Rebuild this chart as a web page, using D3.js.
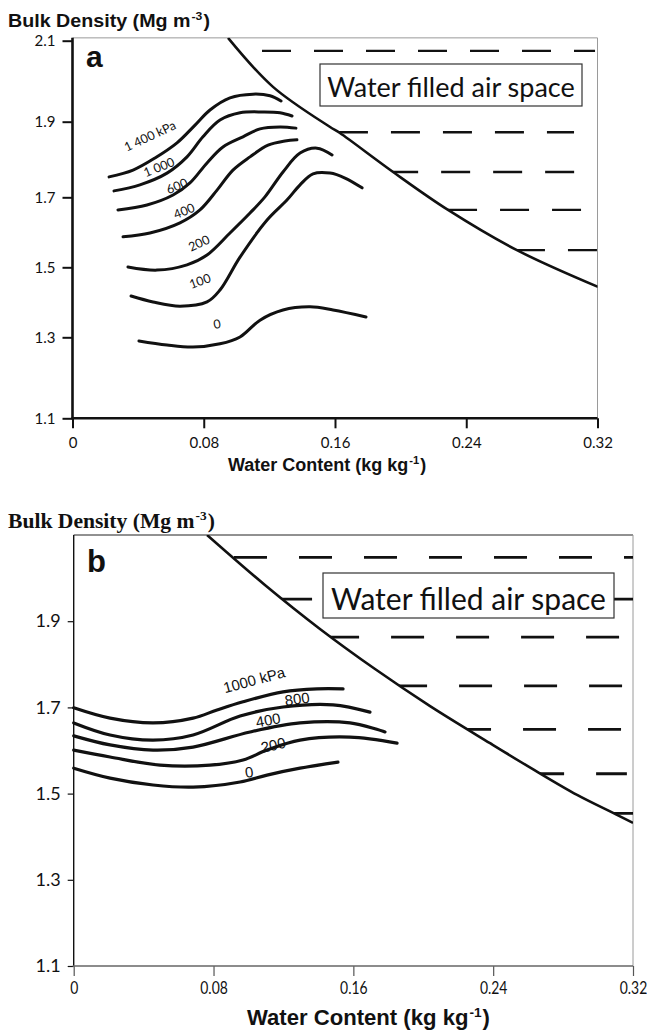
<!DOCTYPE html>
<html>
<head>
<meta charset="utf-8">
<script src="https://cdn.jsdelivr.net/npm/d3@7"></script>
<style>
  body { margin: 0; background: #fff; }
  text { fill: #111; }
</style>
</head>
<body>
<svg id="chart" width="647" height="1034"></svg>
<script>
// ---------- shared axis values ----------
var xTicks = [0, 0.08, 0.16, 0.24, 0.32];
var yTicksA = [1.1, 1.3, 1.5, 1.7, 1.9, 2.1];
var yTicksB = [1.1, 1.3, 1.5, 1.7, 1.9];

// ---------- panel a: contours [water content, bulk density] ----------
var a1400 = [[0.0223,1.754],[0.0369,1.772],[0.0503,1.804],[0.0637,1.844],[0.0747,1.891],[0.0838,1.929],[0.0960,1.959],[0.1100,1.968],[0.1204,1.964],[0.1271,1.951]];
var a1000 = [[0.0253,1.717],[0.0411,1.733],[0.0576,1.764],[0.0698,1.807],[0.0795,1.860],[0.0899,1.904],[0.1021,1.922],[0.1161,1.924],[0.1265,1.922],[0.1338,1.914]];
var a600  = [[0.0277,1.664],[0.0454,1.678],[0.0613,1.706],[0.0716,1.738],[0.0820,1.791],[0.0917,1.833],[0.1039,1.860],[0.1143,1.881],[0.1265,1.886],[0.1362,1.883]];
var a400  = [[0.0308,1.587],[0.0472,1.598],[0.0655,1.627],[0.0777,1.664],[0.0881,1.719],[0.0978,1.772],[0.1082,1.807],[0.1192,1.838],[0.1295,1.849],[0.1368,1.852]];
var a200  = [[0.0338,1.501],[0.0515,1.492],[0.0698,1.507],[0.0820,1.535],[0.0960,1.598],[0.1082,1.655],[0.1173,1.701],[0.1283,1.767],[0.1387,1.817],[0.1490,1.830],[0.1582,1.812]];
var a100  = [[0.0357,1.418],[0.0491,1.401],[0.0655,1.389],[0.0820,1.401],[0.0899,1.435],[0.1021,1.529],[0.1186,1.635],[0.1307,1.692],[0.1387,1.733],[0.1466,1.762],[0.1570,1.764],[0.1661,1.751],[0.1765,1.725]];
var a0    = [[0.0405,1.291],[0.0576,1.281],[0.0734,1.276],[0.0899,1.284],[0.1021,1.301],[0.1143,1.349],[0.1283,1.378],[0.1448,1.387],[0.1588,1.378],[0.1789,1.358]];
var aLabels = ["1 400 kPa", "1 000", "600", "400", "200", "100", "0"];

// saturation line and water-filled rows, panel a
var aLimit = [[0.0948,2.107],[0.1222,1.986],[0.1570,1.886],[0.1630,1.870],[0.1954,1.767],[0.2289,1.664],[0.2709,1.549],[0.3203,1.444]];
var aDashY    = [2.075, 1.872, 1.767, 1.664, 1.549];
var aDashFrom = [0.1155, 0.1624, 0.1930, 0.2289, 0.2703];
var aDashTo   = [0.3185, 0.3057, 0.3069, 0.3112, 0.3200];

// ---------- panel b ----------
var b1000 = [[0,1.699],[0.0208,1.675],[0.0454,1.664],[0.0683,1.675],[0.0820,1.694],[0.0969,1.713],[0.1198,1.736],[0.1392,1.743],[0.1541,1.743]];
var b800  = [[0,1.664],[0.0208,1.636],[0.0454,1.624],[0.0683,1.636],[0.0952,1.680],[0.1198,1.701],[0.1484,1.706],[0.1695,1.689]];
var b400  = [[0,1.634],[0.0208,1.613],[0.0454,1.601],[0.0683,1.608],[0.1009,1.643],[0.1295,1.664],[0.1581,1.664],[0.1781,1.643]];
var b200  = [[0,1.601],[0.0208,1.585],[0.0494,1.566],[0.0780,1.566],[0.0969,1.578],[0.1106,1.601],[0.1295,1.624],[0.1581,1.631],[0.1850,1.617]];
var b0    = [[0,1.559],[0.0208,1.536],[0.0454,1.520],[0.0683,1.515],[0.0952,1.527],[0.1106,1.543],[0.1295,1.559],[0.1512,1.573]];
var bLabels = ["1000 kPa", "800", "400", "200", "0"];

var bLimit = [[0.0763,2.100],[0.1094,1.984],[0.1409,1.882],[0.1724,1.789],[0.2039,1.703],[0.2382,1.617],[0.2634,1.555],[0.2880,1.497],[0.3097,1.453],[0.3200,1.432]];
var bDashY    = [2.048, 1.951, 1.863, 1.750, 1.649, 1.546, 1.454];
var bDashFrom = [0.0917, 0.1175, 0.1444, 0.1833, 0.2199, 0.2617, 0.3080];
var bDashTo   = [0.3200, 0.3200, 0.3154, 0.3165, 0.3137, 0.3165, 0.3200];

var svg = d3.select("#chart");
var tickFont = "Lato, 'Open Sans', sans-serif";

function xFmt(d) { return d === 0 ? "0" : d3.format(".2f")(d); }

// a title with a superscript part, e.g. m-3
function supTitle(x, y, pre, sup, post, font, size, width) {
  var t = svg.append("text")
    .attr("x", x).attr("y", y)
    .style("font-family", font)
    .style("font-weight", "bold")
    .style("font-size", size + "px");
  t.append("tspan").text(pre);
  t.append("tspan").attr("dx", 1).attr("dy", -size * 0.38).style("font-size", (size * 0.62) + "px").text(sup);
  t.append("tspan").attr("dx", 1).attr("dy", size * 0.38).text(post);
  if (width) t.attr("textLength", width).attr("lengthAdjust", "spacingAndGlyphs");
  return t;
}

function drawPanel(p) {
  var g = svg.append("g");
  var x = p.x, y = p.y;
  var x0 = x(0), x1 = x(0.32), yb = y(1.1), yt = y(p.top);

  // frame
  g.append("line").attr("x1", x0).attr("x2", x1).attr("y1", yt).attr("y2", yt)
    .attr("stroke", p.topColor).attr("stroke-width", 1);
  g.append("line").attr("x1", x1).attr("x2", x1).attr("y1", yt).attr("y2", yb)
    .attr("stroke", "#9a9a9a").attr("stroke-width", 1);

  // clip for the water-filled region (right of the saturation line)
  var line = d3.line().x(function(d) { return x(d[0]); }).y(function(d) { return y(d[1]); })
    .curve(d3.curveCatmullRom.alpha(0.5));
  var lim = p.limit;
  var clipD = line(lim) + "L" + (x1 + 20) + "," + y(lim[lim.length - 1][1]) +
    "L" + (x1 + 20) + "," + (yt - 20) + "L" + x(lim[0][0]) + "," + (yt - 20) + "Z";
  svg.append("clipPath").attr("id", "clip" + p.id).append("path").attr("d", clipD);

  // frame clip for curves
  svg.append("clipPath").attr("id", "frame" + p.id).append("rect")
    .attr("x", x0).attr("y", yt).attr("width", x1 - x0).attr("height", yb - yt);

  // dashed water rows
  g.append("g").attr("clip-path", "url(#clip" + p.id + ")")
    .selectAll("line").data(p.dashY).enter().append("line")
    .attr("x1", function(d, i) { return x(p.dashFrom[i]); })
    .attr("x2", function(d, i) { return x(p.dashTo[i]); })
    .attr("y1", function(d) { return y(d); })
    .attr("y2", function(d) { return y(d); })
    .attr("stroke", "#111")
    .attr("stroke-width", p.dashWidth)
    .attr("stroke-dasharray", p.dash);

  // saturation line
  g.append("path").attr("d", line(lim)).attr("fill", "none")
    .attr("stroke", "#111").attr("stroke-width", p.limitWidth)
    .attr("clip-path", "url(#frame" + p.id + ")");

  // contours
  g.selectAll("path.contour").data(p.curves).enter().append("path")
    .attr("class", "contour")
    .attr("d", line)
    .attr("fill", "none")
    .attr("stroke", "#111")
    .attr("stroke-width", p.curveWidth)
    .attr("stroke-linecap", "round");

  // contour labels
  g.selectAll("text.lab").data(p.labels).enter().append("text")
    .attr("class", "lab")
    .attr("transform", function(d, i) {
      var q = p.labelPos[i];
      return "translate(" + x(q[0]) + "," + y(q[1]) + ") rotate(" + q[2] + ")";
    })
    .attr("text-anchor", "middle")
    .attr("dominant-baseline", "central")
    .style("font-family", p.labelFont)
    .style("font-size", p.labelSize + "px")
    .text(function(d) { return d; });

  // box
  var bx = g.append("g");
  bx.append("rect").attr("x", p.box[0]).attr("y", p.box[1])
    .attr("width", p.box[2]).attr("height", p.box[3])
    .attr("fill", "#fff").attr("stroke", "#333").attr("stroke-width", 1.2);
  bx.append("text").attr("x", p.box[0] + p.box[2] / 2).attr("y", p.box[1] + p.box[4])
    .attr("text-anchor", "middle")
    .style("font-family", tickFont).style("font-size", p.boxSize + "px")
    .text("Water filled air space");

  // axes
  var ay = d3.axisLeft(y).tickValues(p.yTicks).tickSize(p.yTick).tickPadding(7)
    .tickFormat(d3.format(".1f"));
  var ag = g.append("g").attr("transform", "translate(" + x0 + ",0)").call(ay);
  var ax = d3.axisBottom(x).tickValues(xTicks).tickSize(10).tickPadding(p.xPad).tickFormat(xFmt);
  var xg = g.append("g").attr("transform", "translate(0," + yb + ")").call(ax);
  [ag, xg].forEach(function(a) {
    a.select(".domain").remove();
    a.selectAll("text").style("font-family", tickFont).style("font-size", p.tickSize + "px")
      .attr("fill", "#111");
  });
  xg.selectAll("text").style("font-size", p.xTickSize + "px");
  // panel b labels are a touch narrower than they are tall
  if (p.squeeze !== 1) {
    xg.selectAll("text").attr("transform", "scale(" + p.squeeze + ",1)");
  }
  ag.selectAll(".tick line").attr("stroke", "#111").attr("stroke-width", p.tickWidth);
  xg.selectAll(".tick line").attr("stroke", p.xTickColor).attr("stroke-width", p.tickWidth);

  g.append("line").attr("x1", x0).attr("x2", x0).attr("y1", yb).attr("y2", yt)
    .attr("stroke", "#111").attr("stroke-width", p.leftWidth);
  g.append("line").attr("x1", x0 - 1).attr("x2", x1).attr("y1", yb).attr("y2", yb)
    .attr("stroke", p.bottomColor).attr("stroke-width", p.bottomWidth);

  // panel letter
  g.append("text").attr("x", p.letter[1]).attr("y", p.letter[2])
    .style("font-family", "'Liberation Sans', Arial, sans-serif")
    .style("font-weight", "bold").style("font-size", p.letter[3] + "px")
    .text(p.letter[0]);
}

// ---------- panel a ----------
var xa = d3.scaleLinear().domain([0, 0.32]).range([72.5, 597.5]);
var ya = d3.scaleLinear().domain(yTicksA).range([418.3, 337.3, 267.3, 197.3, 121.7, 40.7]);

drawPanel({
  id: "a", x: xa, y: ya, top: 2.107, topColor: "#9a9a9a",
  limit: aLimit, dashY: aDashY, dashFrom: aDashFrom, dashTo: aDashTo,
  dash: "29,23", dashWidth: 2.4, limitWidth: 2.6,
  curves: [a1400, a1000, a600, a400, a200, a100, a0], curveWidth: 3,
  labels: aLabels,
  labelPos: [[0.0472,1.862,-25],[0.0527,1.780,-22],[0.0637,1.730,-22],[0.0680,1.661,-22],[0.0771,1.569,-25],[0.0777,1.461,-20],[0.0881,1.338,-10]],
  labelFont: tickFont, labelSize: 12.5,
  box: [320, 64, 262, 42, 33], boxSize: 27,
  yTicks: yTicksA, yTick: 10, tickWidth: 2, xPad: 9, tickSize: 15, xTickSize: 15, xTickColor: "#111",
  squeeze: 1,
  leftWidth: 2.6, bottomColor: "#111", bottomWidth: 2.6,
  letter: ["a", 86, 67, 30]
});

// ---------- panel b ----------
var xb = d3.scaleLinear().domain([0, 0.32]).range([73.7, 633]);
var yb = d3.scaleLinear().domain([1.1, 2.1]).range([966, 535]);

drawPanel({
  id: "b", x: xb, y: yb, top: 2.1, topColor: "#222",
  limit: bLimit, dashY: bDashY, dashFrom: bDashFrom, dashTo: bDashTo,
  dash: "33,32", dashWidth: 2.8, limitWidth: 2.6,
  curves: [b1000, b800, b400, b200, b0], curveWidth: 3.2,
  labels: bLabels,
  labelPos: [[0.1032,1.764,-15],[0.1278,1.720,-8],[0.1112,1.671,-10],[0.1141,1.613,-13],[0.1003,1.550,-8]],
  labelFont: "'Liberation Sans', Arial, sans-serif", labelSize: 15,
  box: [323, 573, 291, 45, 37], boxSize: 30,
  yTicks: yTicksB, yTick: 6, tickWidth: 1.2, xPad: 6, tickSize: 18, xTickSize: 17, xTickColor: "#555",
  squeeze: 0.82,
  leftWidth: 1.4, bottomColor: "#666", bottomWidth: 1.6,
  letter: ["b", 87, 572, 31]
});

// ---------- axis titles ----------
supTitle(8, 27, "Bulk Density (Mg m", "-3", ")", "'Liberation Sans', Arial, sans-serif", 19, 202);
supTitle(228, 471, "Water Content (kg kg", "-1", ")", "'Liberation Sans', Arial, sans-serif", 18);
supTitle(8, 528, "Bulk Density (Mg m", "-3", ")", "'Liberation Serif', 'Times New Roman', serif", 20, 207);
supTitle(247, 1025, "Water Content (kg kg", "-1", ")", "'Liberation Sans', Arial, sans-serif", 22, 243);
</script>
</body>
</html>
